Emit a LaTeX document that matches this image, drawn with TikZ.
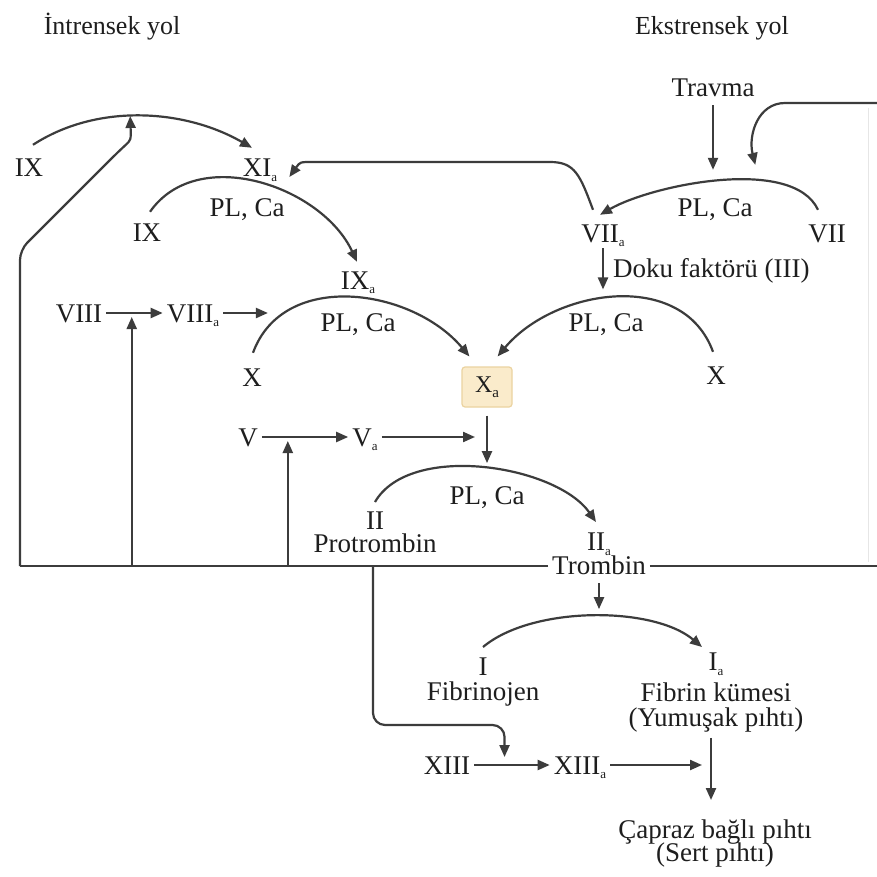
\documentclass[tikz,border=0pt]{standalone}
\usepackage{fontspec}
\setmainfont{Liberation Serif}
\usetikzlibrary{arrows.meta,calc}
\definecolor{txt}{HTML}{1E1E1E}
\definecolor{ln}{HTML}{3C3C3C}
\definecolor{boxfill}{HTML}{FAEBCB}
\definecolor{boxdraw}{HTML}{EBD3A0}
\definecolor{faint}{HTML}{E6E6E6}
\newcommand{\suba}{\raisebox{-0.4ex}{\fontsize{13}{13}\selectfont a}}
\tikzset{
  t/.style={font=\fontsize{27}{28}\selectfont, inner xsep=4pt, inner ysep=0pt,
            text height=18pt, text depth=0pt, text=txt},
  hdr/.style={t, font=\fontsize{26}{28}\selectfont},
  ml/.style={inner xsep=4pt, inner ysep=0pt, text=txt, align=center, anchor=north},
  conn/.style={draw=ln, line width=2.2pt},
  arr/.style={conn, -{Triangle[length=12pt,width=10pt]}},
  xabox/.style={draw=boxdraw, fill=boxfill, line width=1.2pt, rounded corners=3pt,
            minimum width=50pt, minimum height=40pt, inner sep=0pt, text=txt,
            font=\fontsize{24}{26}\selectfont}
}
\newcommand{\mlfont}[1]{\fontsize{27}{#1}\selectfont\lineskiplimit=-100pt\relax}
\begin{document}
\begin{tikzpicture}[x=1pt,y=1pt]
\useasboundingbox (0,0) rectangle (877,-877);
\fill[white] (0,0) rectangle (877,-877);
% headers
\node[hdr] (hdrI) at (112,-26) {İntrensek yol};
\node[hdr] (hdrE) at (712,-26) {Ekstrensek yol};
% extrinsic
\node[t] (travma) at (713,-88) {Travma};
\node[t] (viia) at (603,-233) {VII\suba};
\node[t] (vii) at (827,-233) {VII};
\node[t] (plcaE) at (715,-208) {PL, Ca};
\node[t,anchor=west] (doku) at (609,-268) {Doku faktörü (III)};
% intrinsic
\node[t] (ix1) at (29,-168) {IX};
\node[t] (xia) at (260,-168) {XI\suba};
\node[t] (ix2) at (147,-232) {IX};
\node[t] (plcaI) at (247,-208) {PL, Ca};
\node[t] (ixa) at (358,-280) {IX\suba};
\node[t] (viii) at (79,-313) {VIII};
\node[t] (viiia) at (193,-313) {VIII\suba};
\node[t] (x1) at (252,-377) {X};
\node[t] (plcaX1) at (358,-322) {PL, Ca};
\node[t] (x2) at (716,-375) {X};
\node[t] (plcaX2) at (606,-322) {PL, Ca};
\node[xabox] (xa) at (487,-387) {X\raisebox{-0.5ex}{\fontsize{15}{15}\selectfont a}};
\node[t] (v) at (248,-437) {V};
\node[t] (va) at (365,-437) {V\suba};
\node[t] (plcaII) at (487,-495) {PL, Ca};
\node[ml, font=\mlfont{23}] (iiN) at (375,-512) {II\\Protrombin};
\node[ml, font=\mlfont{24}] (iiaN) at (599,-533) {II\suba\\Trombin};
\node[ml, font=\mlfont{25}] (iN) at (483,-658) {I\\Fibrinojen};
\node[ml, font=\mlfont{25}] (iaN) at (716,-653) {I\suba\\[6pt]Fibrin kümesi\\(Yumuşak pıhtı)};
\node[t] (xiii) at (447,-765) {XIII};
\node[t] (xiiia) at (580,-765) {XIII\suba};
\node[ml, font=\mlfont{23}] (capraz) at (715,-820) {Çapraz bağlı pıhtı\\(Sert pıhtı)};

% ---- arcs ----
% IX -> XIa (top left)
\draw[arr] ([shift={(4,14)}]ix1.north) to[out=33,in=150,looseness=0.9]
   coordinate[pos=0.45] (a1top) ([shift={(-8,11)}]xia.north);
% extrinsic arc VII -> VIIa
\draw[arr] ([shift={(-9,14)}]vii.north) to[out=115,in=30,looseness=0.7]
   coordinate[pos=0.5] (aEtop) coordinate[pos=0.36] (aEr) ([shift={(-3,9)}]viia.north);
% IX -> IXa
\draw[arr] ([shift={(3,11)}]ix2.north) to[out=55,in=115]
   ([shift={(-1,9)}]ixa.north);
% X -> Xa (left)
\draw[arr] ([shift={(1,15)}]x1.north) to[out=70,in=130,looseness=1.05]
   coordinate[pos=0.12] (a3p) ([shift={(8,10)}]xa.north west);
% X -> Xa (right)
\draw[arr] ([shift={(-3,14)}]x2.north) to[out=110,in=50,looseness=1.05]
   coordinate[pos=0.5] (a4top) ([shift={(-15,10)}]xa.north east);
% II -> IIa
\draw[arr] ([shift={(0,10)}]iiN.north) to[out=60,in=125,looseness=0.8]
   coordinate[pos=0.5] (a5top) ([shift={(-3,11)}]iiaN.north);
% I -> Ia
\draw[arr] ([shift={(0,11)}]iN.north) to[out=40,in=140,looseness=0.75]
   coordinate[pos=0.5] (a6top) ([shift={(-14,6)}]iaN.north);

% ---- straight arrows ----
\draw[arr] ([yshift=-8]travma.south) -- ($(travma.south |- aEtop)+(0,11)$);
\draw[arr] ([yshift=-6]viia.south) -- ($(viia.south |- a4top)+(0,8)$);
\draw[arr] ([yshift=-8]xa.south) -- coordinate[pos=0.4] (xam) ($(xa.south |- a5top)+(0,5)$);
\draw[arr] ([yshift=-8]iiaN.south) -- ($(iiaN.south |- a6top)+(0,7)$);
\draw[arr] ([shift={(-5,-5)}]iaN.south) -- coordinate[pos=0.4] (ym) ($([xshift=-5]iaN.south |- capraz.north)+(0,20)$);

\draw[arr] (viii.east) -- coordinate[pos=0.45] (m8) (viiia.west);
\draw[arr] (viiia.east) -- (a3p |- viiia.east);
\draw[arr] (v.east) -- coordinate[pos=0.3] (m5) (va.west);
\draw[arr] (va.east) -- ($(xam |- va.east)+(-12,0)$);
\draw[arr] (xiii.east) -- coordinate[pos=0.4] (m13) (xiiia.west);
\draw[arr] (xiiia.east) -- ($(ym |- xiiia.east)+(-9,0)$);

% ---- feedback from thrombin ----
\coordinate (hl) at (20,-566);
\draw[conn] (iiaN.west |- hl) -- (hl);
\draw[arr,rounded corners=10pt] (hl) -- (20,-250) -- (118,-152)
   .. controls (131,-140) .. (a1top);
\draw[arr] (m8 |- hl) -- ([yshift=-4]m8);
\draw[arr] (m5 |- hl) -- ([yshift=-4]m5);
\draw[arr,rounded corners=12pt] ([xshift=-2]iiN.south |- hl) -- ([xshift=-2]iiN.south |- 0,-725) -- (m13 |- 0,-725) -- ([yshift=8]m13);
% right side
\draw[conn] (iiaN.east |- hl) -- (877,-566);
\draw[faint,line width=1pt] (868,-108) -- (868,-562);
\draw[arr] (877,-103) -- (785,-103) .. controls (758,-103) and (748,-135) .. ([yshift=15]aEr);
% VIIa -> XIa
\draw[arr] ([shift={(-10,14)}]viia.north) .. controls (580,-175) and (575,-162) .. (550,-162)
   -- (312,-162) .. controls (300,-162) .. ([shift={(8,-9)}]xia.east);
\end{tikzpicture}
\end{document}
